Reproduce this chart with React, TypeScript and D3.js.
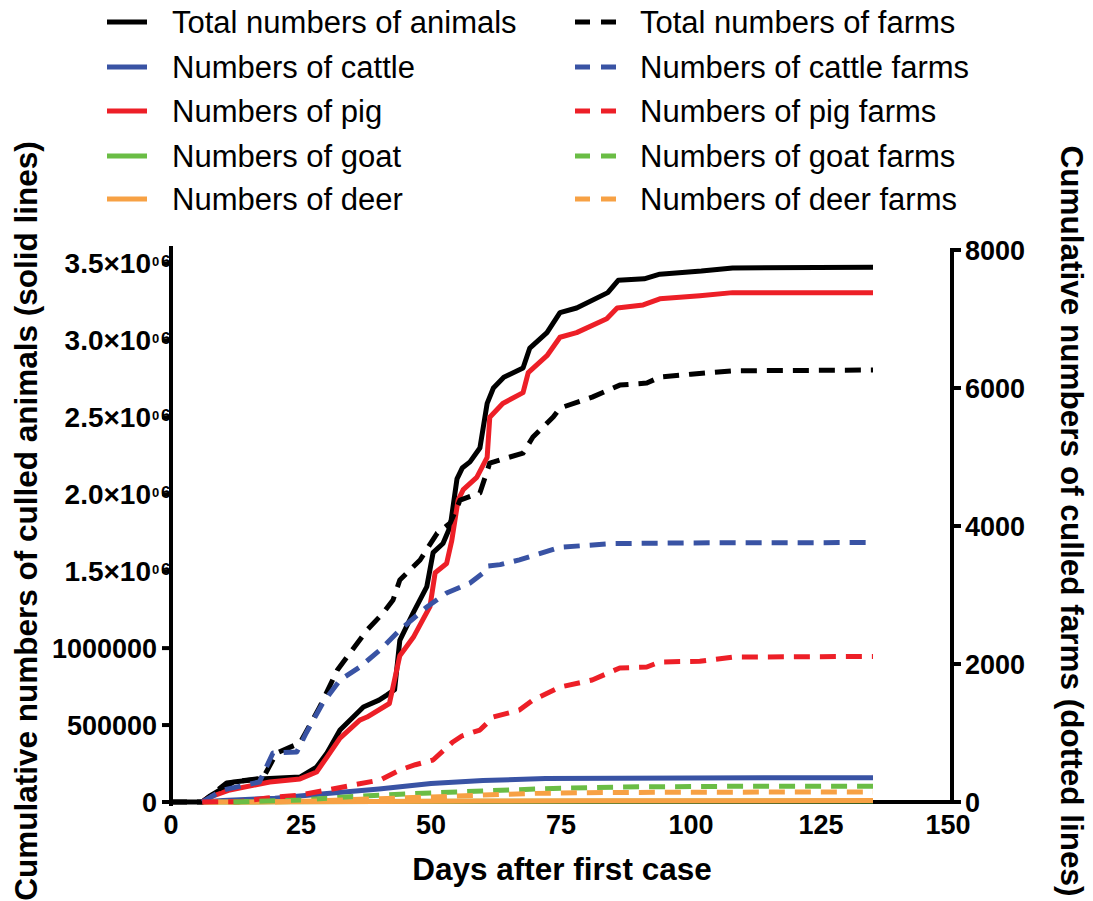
import React from "react";
import * as d3 from "d3";

// ---- data: [day, cumulative value] ----
const totalAnimals: [number, number][] = [
  [0, 0], [6, 0], [8, 50000], [12, 130000], [17, 149000], [24.8, 162000], [28, 227000], [30, 318000],
  [32.5, 468000], [37, 617000], [40, 662000], [41.5, 695000], [43, 730000], [44, 1050000], [46.6, 1230000],
  [49.2, 1400000], [50.4, 1620000], [52.3, 1680000], [53.7, 1790000], [55, 2100000], [56, 2170000],
  [57.5, 2210000], [59.4, 2300000], [60.8, 2590000], [62, 2690000], [64, 2760000], [67.7, 2820000],
  [69, 2950000], [72.3, 3050000], [74.8, 3180000], [78, 3210000], [84, 3310000], [86, 3390000],
  [91, 3400000], [94, 3430000], [102, 3450000], [108, 3470000], [135, 3475000],
];
const cattleAnimals: [number, number][] = [
  [6, 0], [10, 10000], [20, 25000], [30, 55000], [40, 85000], [50, 120000], [55, 130000], [60, 140000],
  [72, 152000], [100, 156000], [135, 158000],
];
const pigAnimals: [number, number][] = [
  [6, 0], [7, 26000], [11.3, 78000], [19, 130000], [24.8, 150000], [28, 195000], [30, 292000],
  [32.5, 415000], [36.3, 532000], [37.7, 552000], [42, 640000], [44, 950000], [46.6, 1070000],
  [49.8, 1270000], [50.8, 1490000], [53, 1550000], [54, 1700000], [55.2, 1960000], [56.2, 2030000],
  [58.8, 2110000], [60.8, 2240000], [61.3, 2500000], [63.8, 2590000], [67.7, 2660000], [68.7, 2790000],
  [72.3, 2900000], [74.8, 3020000], [78, 3050000], [83.8, 3140000], [85.8, 3210000], [90.8, 3230000],
  [94, 3270000], [101.7, 3290000], [108, 3310000], [135, 3310000],
];
const goatAnimals: [number, number][] = [
  [6, 0], [20, 1000], [40, 3000], [60, 5000], [135, 6000],
];
const deerAnimals: [number, number][] = [
  [6, 0], [20, 1000], [40, 4000], [60, 7000], [80, 8000], [135, 9000],
];

const totalFarms: [number, number][] = [
  [0, 0], [6, 0], [10.7, 275], [17.7, 348], [20.3, 710], [24.8, 855], [28.6, 1377], [32, 1913],
  [37.7, 2492], [40.8, 2739], [42.7, 2927], [44, 3217], [47.9, 3507], [51.2, 3898], [53.7, 4043],
  [55.6, 4376], [59.4, 4478], [61.3, 4912], [67.7, 5057], [69.6, 5289], [73.5, 5579], [74.8, 5709],
  [81, 5868], [86.3, 6042], [91.5, 6072], [94, 6158], [100, 6200], [108, 6250], [135, 6260],
];
const cattleFarms: [number, number][] = [
  [6, 0], [10, 174], [17, 290], [19.6, 710], [24.2, 725], [26, 1000], [29.2, 1435], [32.5, 1768],
  [36.3, 1956], [40.2, 2203], [44, 2492], [49.2, 2826], [53, 3028], [57.5, 3173], [60, 3318],
  [61, 3420], [63.3, 3440], [67, 3510], [70, 3580], [74.8, 3690], [80, 3720], [85, 3745],
  [100, 3755], [135, 3760],
];
const pigFarms: [number, number][] = [
  [6, 0], [13, 5], [18.5, 58], [24.8, 101], [30, 174], [35, 246], [40.2, 319], [44, 464], [47, 540],
  [50.4, 609], [54.2, 870], [56, 960], [59.4, 1043], [62, 1232], [67, 1333], [69.6, 1478], [74.8, 1666],
  [81, 1768], [86.3, 1942], [91.5, 1956], [94, 2029], [101.7, 2040], [108, 2100], [135, 2110],
];
const goatFarms: [number, number][] = [
  [12, 0], [25, 30], [35, 80], [46, 120], [60, 160], [75, 200], [90, 220], [110, 228], [135, 230],
];
const deerFarms: [number, number][] = [
  [20, 0], [30, 20], [37.7, 43], [50, 72], [60, 100], [70, 125], [80, 135], [100, 142], [135, 145],
];

const xTicks = [0, 25, 50, 75, 100, 125, 150];
const leftTicks = [0, 500000, 1000000, 1500000, 2000000, 2500000, 3000000, 3500000];
const leftTickMain = ["0", "500000", "1000000", "1.5×10", "2.0×10", "2.5×10", "3.0×10", "3.5×10"];
const leftTickSup = ["", "", "", "0", "0", "0", "0", "0"];
const leftTickSup2 = ["", "", "", "6", "6", "6", "6", "6"];
const rightTicks = [0, 2000, 4000, 6000, 8000];

const animalNames = ["Total numbers of animals", "Numbers of cattle", "Numbers of pig", "Numbers of goat", "Numbers of deer"];
const farmNames = ["Total numbers of farms", "Numbers of cattle farms", "Numbers of pig farms", "Numbers of goat farms", "Numbers of deer farms"];
const colors = ["#000000", "#3953a4", "#ed1f27", "#6abd45", "#f7a144"];

const FONT = "'Liberation Sans', Arial, sans-serif";

export default function App() {
  const W = 1093, H = 901;
  const x = d3.scaleLinear().domain([0, 150]).range([171, 951]);
  const yL = d3.scaleLinear().domain([0, 3600000]).range([802, 248]);
  const yR = d3.scaleLinear().domain([0, 8000]).range([802, 250]);

  const lineL = d3.line<[number, number]>().x((d) => x(d[0])).y((d) => yL(d[1]));
  const lineR = d3.line<[number, number]>().x((d) => x(d[0])).y((d) => yR(d[1]));

  const animalSeries = [totalAnimals, cattleAnimals, pigAnimals, goatAnimals, deerAnimals];
  const farmSeries = [totalFarms, cattleFarms, pigFarms, goatFarms, deerFarms];
  const dash = "16 10";

  const legendRows = [22, 67, 111, 156, 199];

  return (
    <svg width={W} height={H} style={{ position: "absolute", left: 0, top: 0, background: "#fff" }} fontFamily={FONT}>
      <rect x={0} y={0} width={W} height={H} fill="#fff" />
      {/* legend */}
      {animalNames.map((n, i) => (
        <g key={"la" + i}>
          <line x1={107} x2={147} y1={legendRows[i]} y2={legendRows[i]} stroke={colors[i]} strokeWidth={5} />
          <text x={172} y={legendRows[i] + 11} fontSize={31}>{n}</text>
        </g>
      ))}
      {farmNames.map((n, i) => (
        <g key={"lf" + i}>
          <line x1={575} x2={617} y1={legendRows[i]} y2={legendRows[i]} stroke={colors[i]} strokeWidth={5} strokeDasharray="15 11" />
          <text x={640} y={legendRows[i] + 11} fontSize={31}>{n}</text>
        </g>
      ))}

      {/* axes */}
      <line x1={x(0)} x2={x(150)} y1={yL(0)} y2={yL(0)} stroke="#000" strokeWidth={4} />
      <line x1={x(0)} x2={x(0)} y1={246} y2={806} stroke="#000" strokeWidth={4} />
      <line x1={x(150) + 1} x2={x(150) + 1} y1={yR(8000) - 2} y2={804} stroke="#000" strokeWidth={4} />
      {leftTicks.map((t, i) => (
        <g key={"lt" + i}>
          <line x1={x(0) - 9} x2={x(0)} y1={yL(t)} y2={yL(t)} stroke="#000" strokeWidth={4} />
          {leftTickSup[i] ? (
            <g fontWeight="bold">
              <text x={151} y={yL(t) + 10} fontSize={28} textAnchor="end">{leftTickMain[i]}</text>
              <text x={152} y={yL(t) + 3} fontSize={13}>{leftTickSup[i]}</text>
              <text x={161} y={yL(t) + 4} fontSize={17}>{leftTickSup2[i]}</text>
            </g>
          ) : (
            <text x={157} y={yL(t) + 10} fontSize={27} fontWeight="bold" textAnchor="end">{leftTickMain[i]}</text>
          )}
        </g>
      ))}
      {rightTicks.map((t, i) => (
        <g key={"rt" + i}>
          <line x1={x(150)} x2={x(150) + 10} y1={yR(t)} y2={yR(t)} stroke="#000" strokeWidth={4} />
          <text x={965} y={yR(t) + 10} fontSize={27} fontWeight="bold">{t}</text>
        </g>
      ))}
      {xTicks.map((t, i) => (
        <text key={"xt" + i} x={x(t) - (t === 150 ? 3 : 0)} y={834} fontSize={27} fontWeight="bold" textAnchor="middle">{t}</text>
      ))}

      {/* series */}
      {animalSeries.map((s, i) => (
        <path key={"sa" + i} d={lineL(s) || ""} fill="none" stroke={colors[i]} strokeWidth={5} strokeLinejoin="round" />
      ))}
      {farmSeries.map((s, i) => (
        <path key={"sf" + i} d={lineR(s) || ""} fill="none" stroke={colors[i]} strokeWidth={5} strokeDasharray={dash} strokeLinejoin="round" />
      ))}

      {/* titles */}
      <text x={562} y={880} fontSize={31.5} fontWeight="bold" textAnchor="middle">Days after first case</text>
      <text transform="translate(37,521) rotate(-90)" fontSize={31.5} fontWeight="bold" textAnchor="middle">
        Cumulative numbers of culled animals (solid lines)
      </text>
      <text transform="translate(1061,521) rotate(90)" fontSize={31.5} fontWeight="bold" textAnchor="middle">
        Cumulative numbers of culled farms (dotted lines)
      </text>
    </svg>
  );
}
